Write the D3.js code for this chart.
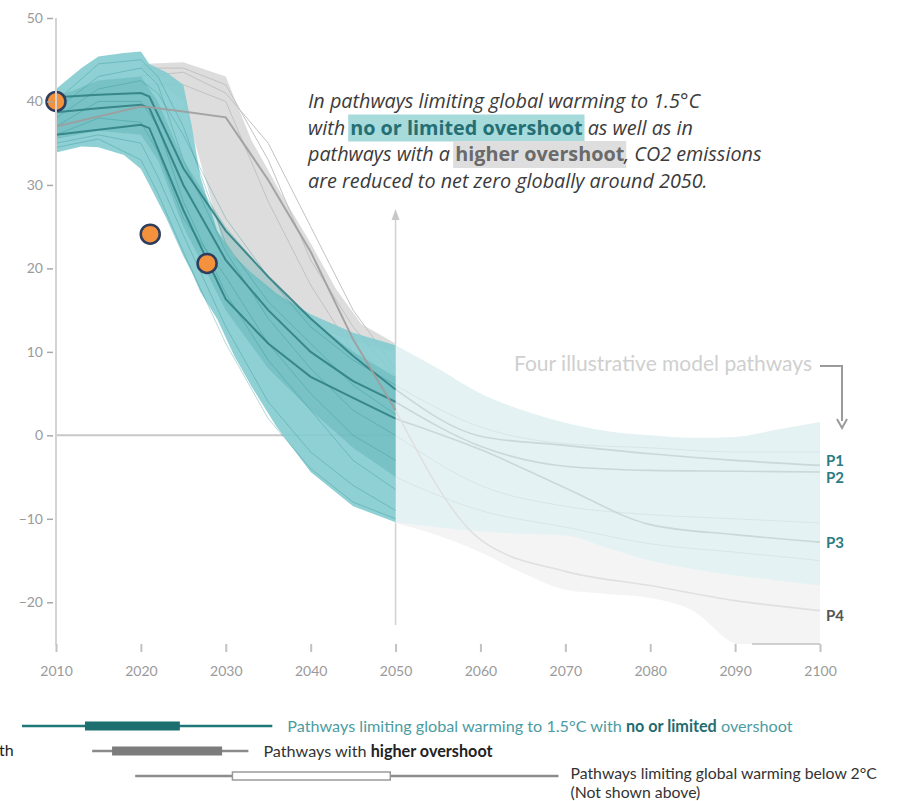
<!DOCTYPE html>
<html>
<head>
<meta charset="utf-8">
<script src="https://cdn.jsdelivr.net/npm/d3@7"></script>
<style>
  body { margin: 0; background: #fff; }
  svg { display: block; font-family: Lato, 'Open Sans', sans-serif; }
</style>
</head>
<body>
<svg width="902" height="801"></svg>
<script>
// ---- data (GtCO2/yr) ----
const yTicks = [-20, -10, 0, 10, 20, 30, 40, 50];
const xTicks = [2010, 2020, 2030, 2040, 2050, 2060, 2070, 2080, 2090, 2100];

// 1.5C no / limited overshoot range, 2010-2050
const tealYears = [2010, 2013, 2015, 2018, 2020, 2021, 2023, 2025, 2026, 2027, 2029, 2031, 2033, 2036, 2040, 2045, 2050];
const tealUpper = [41.5, 44, 45.4, 45.8, 46, 44.5, 43.5, 42, 37, 31, 24.5, 21.5, 19.5, 17, 14.5, 12.3, 10.8];
const tealLower = [33.9, 34.6, 34.5, 33.6, 31.9, 30, 26, 21.5, 19.5, 17.2, 13.9, 9.5, 5.9, 1, -4.4, -8.5, -10.4];

// denser middle of the same range
const coreYears = [2010, 2015, 2020, 2022, 2025, 2030, 2035, 2040, 2045, 2050];
const coreUpper = [40.5, 42.5, 43, 40, 33, 25, 19, 14, 10, 7];
const coreLower = [35.5, 36.5, 36, 33, 25, 15, 8, 3, -1.5, -5];

// higher overshoot range, 2020-2050
const grayYears = [2020, 2025, 2030, 2033, 2036.5, 2040, 2043, 2046, 2050];
const grayUpper = [44.5, 44.7, 43, 35.4, 29, 23, 17.5, 13.3, 11];
const grayLower = [44, 40, 22, 19, 16, 13.5, 12, 11, 10];

// faded ranges after 2050
const lateYears = [2050, 2055, 2060, 2065, 2070, 2075, 2080, 2085, 2090, 2095, 2100];
const lateTealUpper = [10.8, 8, 5, 3, 1.5, 0.5, 0, -0.3, -0.2, 0.7, 1.6];
const lateTealLower = [-10.4, -11, -11.5, -11.8, -12, -13.5, -15, -16, -16.8, -17.4, -18];
const lateGrayUpper = [-8, -9, -9, -9, -9, -10, -12, -13, -14, -15, -15];
const lateGrayLower = [-10.5, -12, -14, -16.5, -18.5, -19, -19.5, -21, -25, -26, -27];

// individual scenarios (faint)
const fineYears = [2010, 2015, 2020, 2022, 2025, 2030, 2035, 2040, 2045, 2050];
const fineTeal = [
  [39, 43, 44, 42, 33, 22, 14, 8, 3, 0],
  [37, 40, 40, 37, 28, 17, 9, 3, -3, -6.5],
  [35, 36, 35, 31, 24, 13, 4, -2, -6, -9],
  [38, 41.5, 42.5, 41, 36, 26, 19, 13, 9, 6],
  [36, 38, 37.5, 34, 26, 19, 11, 5, 0, -3],
  [40, 44.5, 45, 43, 37, 23, 16, 11, 6, 2.5],
  [34.5, 35.5, 33, 29, 22, 11, 2, -4, -8, -10]
];
const fineGrayYears = [2020, 2025, 2030, 2035, 2040, 2045, 2050];
const fineGray = [
  [44, 44, 42, 33, 21, 13, 7],
  [42, 42, 40, 28, 18, 10, 4],
  [43, 43.5, 41, 35, 25, 15, 8]
];
const fineLateYears = [2050, 2060, 2070, 2080, 2090, 2100];
const fineLate = [
  [6, 1, -1, -1.5, -2, -2],
  [0, -6, -8.5, -9.5, -10, -10.5],
  [-5, -9, -11, -13, -14, -15]
];

// four illustrative model pathways
const pathYears = [2010, 2015, 2020, 2021, 2025, 2030, 2035, 2040, 2045, 2050, 2060, 2070, 2080, 2090, 2100];
const pathNames = ['P1', 'P2', 'P3', 'P4'];
const p1 = [40.5, 40.8, 41, 40.6, 32, 24.5, 19, 14, 9.5, 5.5, -0.1, -1.2, -2.2, -3, -3.6];
const p2 = [38.7, 39.2, 39.6, 39.2, 30, 21, 15, 10, 6.5, 4, -1.3, -3.7, -4.2, -4.3, -4.4];
const p3 = [36, 36.6, 37.2, 36.8, 27, 16.3, 11, 7, 4.5, 2, -1.7, -6.3, -10.7, -11.9, -12.8];
const p4 = [37, 38.2, 39.4, 39.3, 38.8, 38.1, 30.6, 22, 11.5, 3, -12.5, -16.3, -18, -19.8, -21];

// highlighted points
const dotYears = [2010, 2021.1, 2027.8];
const dotValues = [40, 24.1, 20.6];

// legend box plots (year of net zero)
const legendNames = ['nolow', 'higher', 'below2'];
const legendWhisker = [[2030, 2061.4], [2038.8, 2058.4], [2044.2, 2097.3]];
const legendBox = [[2037.9, 2049.8], [2041.3, 2055.1], [2056.4, 2076.2]];

const noteLines = [
  [['i', 'In pathways limiting global warming to 1.5°C']],
  [['i', 'with '], ['teal', 'no or limited overshoot'], ['i', ' as well as in']],
  [['i', 'pathways with a '], ['gray', 'higher overshoot'], ['i', ', CO2 emissions']],
  [['i', 'are reduced to net zero globally around 2050.']]
];

// ---- drawing ----
const svg = d3.select('svg');
const x = d3.scaleLinear().domain([2010, 2100]).range([56, 820]);
const y = d3.scaleLinear().domain([-25, 50]).range([644, 18]);
const xLegend = d3.scaleLinear().domain([2030, 2100]).range([22, 580]);

svg.append('defs').append('clipPath').attr('id', 'plot')
  .append('rect')
    .attr('x', x(2010)).attr('y', y(50))
    .attr('width', x(2100) - x(2010)).attr('height', y(-25) - y(50));

const zip = (years, lo, hi) => years.map((yr, i) => ({yr, lo: lo[i], hi: hi[i]}));
const pts = (years, vals) => years.map((yr, i) => ({yr, v: vals[i]}));
const area = d3.area().x(d => x(d.yr)).y0(d => y(d.lo)).y1(d => y(d.hi));
const smoothArea = d3.area().curve(d3.curveMonotoneX).x(d => x(d.yr)).y0(d => y(d.lo)).y1(d => y(d.hi));
const line = d3.line().x(d => x(d.yr)).y(d => y(d.v));
const smoothLine = d3.line().curve(d3.curveMonotoneX).x(d => x(d.yr)).y(d => y(d.v));

// guide lines
svg.append('line')
  .attr('x1', x(2010)).attr('x2', x(2050))
  .attr('y1', y(0)).attr('y2', y(0))
  .attr('stroke', '#c8c8c8').attr('stroke-width', 2);

svg.append('line')
  .attr('x1', x(2050)).attr('x2', x(2050))
  .attr('y1', 214).attr('y2', 625)
  .attr('stroke', '#d2d2d2').attr('stroke-width', 1.5);
svg.append('path')
  .attr('d', `M${x(2050) - 4},${220} L${x(2050)},${209} L${x(2050) + 4},${220} Z`)
  .attr('fill', '#c8c8c8');

const plot = svg.append('g').attr('clip-path', 'url(#plot)');

// after 2050
plot.append('path').datum(zip(lateYears, lateGrayLower, lateGrayUpper))
  .attr('d', smoothArea).attr('fill', '#f4f4f4');
plot.append('path').datum(zip(lateYears, lateTealLower, lateTealUpper))
  .attr('d', smoothArea).attr('fill', '#e4f2f3');
fineLate.forEach(vals => {
  plot.append('path').datum(pts(fineLateYears, vals))
    .attr('d', smoothLine).attr('fill', 'none')
    .attr('stroke', '#d9e6e7').attr('stroke-width', 1);
});

// higher overshoot
plot.append('path').datum(zip(grayYears, grayLower, grayUpper))
  .attr('d', area).attr('fill', '#dddddd');
fineGray.forEach(vals => {
  plot.append('path').datum(pts(fineGrayYears, vals))
    .attr('d', line).attr('fill', 'none')
    .attr('stroke', '#c2c2c2').attr('stroke-width', 1);
});

// no / limited overshoot
plot.append('path').datum(zip(tealYears, tealLower, tealUpper))
  .attr('d', area).attr('fill', '#82cbce').attr('opacity', 0.9);
plot.append('path').datum(zip(coreYears, coreLower, coreUpper))
  .attr('d', area).attr('fill', '#4aa5a9').attr('opacity', 0.32);
fineTeal.forEach(vals => {
  plot.append('path').datum(pts(fineYears, vals))
    .attr('d', line).attr('fill', 'none')
    .attr('stroke', '#2f8e93').attr('stroke-opacity', 0.35).attr('stroke-width', 1);
});

// illustrative pathways
const paths = [p1, p2, p3, p4];
const split = pathYears.indexOf(2050);
paths.forEach((vals, i) => {
  const all = pts(pathYears, vals);
  plot.append('path').datum(all.slice(split))
    .attr('d', smoothLine).attr('fill', 'none')
    .attr('stroke', i === 3 ? '#e0e0e0' : '#cbd7d8').attr('stroke-width', 1.6);
  plot.append('path').datum(all.slice(0, split + 1))
    .attr('d', line).attr('fill', 'none')
    .attr('stroke', i === 3 ? '#9d9d9d' : '#2c7c80')
    .attr('stroke-opacity', i === 3 ? 0.9 : 0.85)
    .attr('stroke-width', 2);
});

// dots
svg.selectAll('.dot')
  .data(dotYears.map((yr, i) => ({yr, v: dotValues[i]})))
  .enter().append('circle')
    .attr('class', 'dot')
    .attr('cx', d => x(d.yr)).attr('cy', d => y(d.v))
    .attr('r', 9.5)
    .attr('fill', '#f4913d')
    .attr('stroke', '#2e3d5e').attr('stroke-width', 2.5);

// axes
svg.append('line')
  .attr('x1', x(2010)).attr('x2', x(2010))
  .attr('y1', y(50)).attr('y2', y(-25) + 1)
  .attr('stroke', '#d3d3d3').attr('stroke-width', 2);

const yAxis = svg.append('g')
  .attr('transform', `translate(${x(2010) - 3},0)`)
  .call(d3.axisLeft(y).tickValues(yTicks).tickSize(6).tickPadding(4));
yAxis.select('.domain').remove();
yAxis.selectAll('line').attr('stroke', '#a8a8a8').attr('stroke-width', 1.5);
yAxis.selectAll('text')
  .attr('fill', '#9a9a9a').style('font-size', '14px').style('font-family', 'Lato, sans-serif');

const xAxis = svg.append('g')
  .attr('transform', `translate(0,${y(-25)})`)
  .call(d3.axisBottom(x).tickValues(xTicks).tickFormat(d3.format('d')).tickSize(8).tickPadding(14));
xAxis.select('.domain').remove();
xAxis.selectAll('line').attr('stroke', '#c2c2c2').attr('stroke-width', 2);
xAxis.selectAll('text')
  .attr('fill', '#9a9a9a').style('font-size', '14px').style('font-family', 'Lato, sans-serif');
svg.append('line')
  .attr('x1', x(2092)).attr('x2', x(2100))
  .attr('y1', y(-25)).attr('y2', y(-25))
  .attr('stroke', '#c2c2c2').attr('stroke-width', 1.5);

// annotation
const note = svg.append('g').attr('transform', 'translate(308,0)');
const noteStyle = {
  i: {fill: '#3b3b3b', style: 'italic', weight: 400},
  teal: {fill: '#246f74', style: 'normal', weight: 700, bg: '#a6dadb'},
  gray: {fill: '#6a6a6a', style: 'normal', weight: 700, bg: '#dedede'}
};
noteLines.forEach((segs, li) => {
  const base = 108 + li * 26.5;
  const bgLayer = note.append('g');
  const t = note.append('text')
    .attr('x', 0).attr('y', base)
    .attr('xml:space', 'preserve')
    .style('font-family', "'Open Sans', sans-serif")
    .style('font-size', '19.8px');
  segs.forEach(([k, s]) => {
    const st = noteStyle[k];
    const ts = t.append('tspan')
      .text(s)
      .attr('fill', st.fill)
      .style('font-style', st.style)
      .style('font-weight', st.weight);
    if (st.bg) {
      const bb = ts.node().getBBox();
      bgLayer.append('rect')
        .attr('x', bb.x - 2).attr('y', base - 20)
        .attr('width', bb.width + 4).attr('height', 27)
        .attr('fill', st.bg);
    }
  });
});

// four pathways label
svg.append('text')
  .attr('x', 812).attr('y', 371)
  .attr('text-anchor', 'end')
  .attr('fill', '#cfcfcf')
  .style('font-size', '21px')
  .text('Four illustrative model pathways');
svg.append('path')
  .attr('d', 'M820,366 H842 V421')
  .attr('fill', 'none').attr('stroke', '#9a9a9a').attr('stroke-width', 2);
svg.append('path')
  .attr('d', 'M837,419 L842,428 L847,419')
  .attr('fill', 'none').attr('stroke', '#9a9a9a').attr('stroke-width', 2);

// pathway labels
const labelShift = [-5, 5.5, 0, 5];
pathNames.forEach((name, i) => {
  const vals = paths[i];
  svg.append('text')
    .attr('x', x(2100) + 6)
    .attr('y', y(vals[vals.length - 1]) + labelShift[i])
    .attr('dy', '0.36em')
    .attr('fill', i === 3 ? '#555' : '#2b7b85')
    .style('font-size', '15px').style('font-weight', 700)
    .text(name);
});

// legend
const legendRowY = [726, 751, 773];
const legendStyle = [
  {line: '#1f7777', box: '#1c6e6f', boxStroke: 'none', h: 9, gap: 15},
  {line: '#8a8a8a', box: '#7c7c7c', boxStroke: 'none', h: 9, gap: 15},
  {line: '#8c8c8c', box: '#ffffff', boxStroke: '#9a9a9a', h: 8, gap: 12}
];
const legendText = [
  [['Pathways limiting global warming to 1.5°C with ', '#4b9ca2', 400], ['no or limited', '#1f6c70', 700], [' overshoot', '#4b9ca2', 400]],
  [['Pathways with ', '#333', 400], ['higher overshoot', '#222', 700]],
  [['Pathways limiting global warming below 2°C', '#333', 400]]
];
legendNames.forEach((nm, i) => {
  const ry = legendRowY[i];
  const st = legendStyle[i];
  const g = svg.append('g').attr('class', 'legend-' + nm);
  g.append('line')
    .attr('x1', xLegend(legendWhisker[i][0])).attr('x2', xLegend(legendWhisker[i][1]))
    .attr('y1', ry + (i === 2 ? 3 : 0)).attr('y2', ry + (i === 2 ? 3 : 0))
    .attr('stroke', st.line).attr('stroke-width', 2.5);
  g.append('rect')
    .attr('x', xLegend(legendBox[i][0])).attr('y', ry + (i === 2 ? 3 : 0) - st.h / 2)
    .attr('width', xLegend(legendBox[i][1]) - xLegend(legendBox[i][0]))
    .attr('height', st.h)
    .attr('fill', st.box).attr('stroke', st.boxStroke).attr('stroke-width', 1.5);
  const t = g.append('text')
    .attr('x', xLegend(legendWhisker[i][1]) + st.gap).attr('y', ry + 5.5)
    .style('font-size', i === 2 ? '15.8px' : '16.2px');
  legendText[i].forEach(([s, c, w]) => {
    t.append('tspan').text(s).attr('fill', c).style('font-weight', w);
  });
  if (i === 2) {
    g.append('text')
      .attr('x', xLegend(legendWhisker[i][1]) + st.gap).attr('y', ry + 25)
      .attr('fill', '#333').style('font-size', '15.8px')
      .text('(Not shown above)');
  }
});

svg.append('text')
  .attr('x', -1).attr('y', 756)
  .attr('fill', '#222').style('font-size', '16px')
  .text('th');
</script>
</body>
</html>
